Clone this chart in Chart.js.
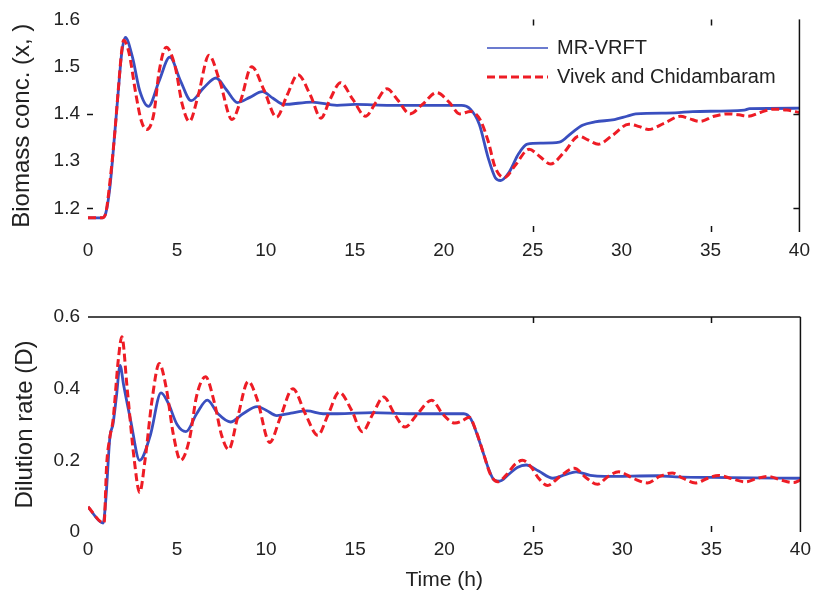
<!DOCTYPE html>
<html>
<head>
<meta charset="utf-8">
<script src="https://cdn.jsdelivr.net/npm/chart.js@4/dist/chart.umd.min.js"></script>
<style>
  html, body { margin: 0; padding: 0; background: #fff; }
  #wrap { position: relative; width: 817px; height: 593px; }
  #c1 { position: absolute; left: 0; top: 0; }
  #c2 { position: absolute; left: 0; top: 290px; }
</style>
</head>
<body>
<div id="wrap">
  <canvas id="c1" width="817" height="290"></canvas>
  <canvas id="c2" width="817" height="303"></canvas>
</div>
<script>
// ---------- DATA ----------
const seriesNames = ['MR-VRFT', 'Vivek and Chidambaram'];
const xTicks = [0, 5, 10, 15, 20, 25, 30, 35, 40];
const bioTicks = [1.2, 1.3, 1.4, 1.5, 1.6];
const dilTicks = [0, 0.2, 0.4, 0.6];

// Biomass concentration, MR-VRFT
const tBioMR = [0, 0.8, 1.0, 1.23, 1.5, 1.7, 1.9, 2.1, 2.5, 2.9, 3.4, 4.0, 4.6, 5.2, 5.8, 6.5, 7.2, 7.8, 8.4, 9.1, 9.8, 10.4, 11.0, 12.6, 14, 15, 17, 21.0, 21.5, 22.0, 22.5, 22.9, 23.2, 23.7, 24.2, 24.7, 25.5, 26.5, 27.2, 27.8, 28.5, 29.6, 30.3, 30.8, 33, 34, 36.9, 37.2, 40];
const bioMR  = [1.18, 1.18, 1.19, 1.244, 1.357, 1.447, 1.53, 1.562, 1.52, 1.45, 1.416, 1.47, 1.52, 1.47, 1.428, 1.455, 1.476, 1.45, 1.424, 1.435, 1.447, 1.433, 1.42, 1.425, 1.418, 1.42, 1.418, 1.418, 1.41, 1.378, 1.307, 1.265, 1.259, 1.278, 1.315, 1.336, 1.338, 1.34, 1.36, 1.376, 1.383, 1.388, 1.395, 1.40, 1.402, 1.405, 1.408, 1.411, 1.412];

// Biomass concentration, Vivek and Chidambaram
const tBioVC = [0, 0.8, 1.0, 1.2, 1.5, 1.7, 1.9, 2.0, 2.3, 2.7, 3.0, 3.3, 3.7, 4.0, 4.4, 4.9, 5.3, 5.7, 6.2, 6.8, 7.4, 8.1, 8.6, 9.2, 9.9, 10.6, 11.2, 11.8, 12.5, 13.1, 13.6, 14.2, 14.9, 15.6, 16.2, 16.8, 17.4, 18.1, 18.8, 19.6, 20.3, 20.9, 21.5, 21.8, 22.1, 22.5, 22.9, 23.4, 24.0, 24.8, 25.4, 26.0, 26.8, 27.6, 28.1, 28.7, 29.5, 30.4, 31.0, 31.5, 32.4, 33.3, 33.8, 34.4, 35.2, 36.0, 36.6, 37.1, 37.8, 38.5, 39.3, 40];
const bioVC  = [1.18, 1.18, 1.19, 1.245, 1.357, 1.45, 1.535, 1.556, 1.53, 1.44, 1.385, 1.367, 1.40, 1.49, 1.541, 1.50, 1.42, 1.384, 1.44, 1.524, 1.47, 1.388, 1.43, 1.50, 1.45, 1.393, 1.44, 1.483, 1.44, 1.391, 1.43, 1.466, 1.43, 1.395, 1.425, 1.453, 1.43, 1.40, 1.42, 1.445, 1.425, 1.40, 1.405, 1.40, 1.384, 1.342, 1.286, 1.265, 1.29, 1.325, 1.31, 1.294, 1.32, 1.353, 1.345, 1.336, 1.355, 1.378, 1.373, 1.367, 1.38, 1.395, 1.39, 1.384, 1.395, 1.40, 1.398, 1.395, 1.403, 1.41, 1.408, 1.403];

// Dilution rate, MR-VRFT
const tDilMR = [0, 0.85, 1.0, 1.23, 1.4, 1.6, 1.8, 2.0, 2.4, 2.9, 3.5, 4.1, 4.5, 5.0, 5.5, 6.1, 6.7, 7.3, 8.0, 8.7, 9.5, 10.0, 10.6, 11.4, 12.3, 13.2, 14, 16, 18, 21.1, 21.5, 22.0, 22.5, 22.8, 23.1, 23.6, 24.1, 24.6, 25.3, 26.1, 26.8, 27.4, 28.2, 29, 32, 33, 36, 40];
const dilMR  = [0.07, 0.025, 0.09, 0.265, 0.30, 0.38, 0.465, 0.41, 0.31, 0.20, 0.27, 0.388, 0.36, 0.30, 0.28, 0.33, 0.368, 0.33, 0.307, 0.33, 0.35, 0.34, 0.325, 0.332, 0.338, 0.33, 0.33, 0.333, 0.33, 0.33, 0.315, 0.25, 0.175, 0.145, 0.142, 0.16, 0.18, 0.187, 0.17, 0.15, 0.16, 0.168, 0.158, 0.155, 0.157, 0.154, 0.152, 0.15];

// Dilution rate, Vivek and Chidambaram
const tDilVC = [0, 0.9, 1.05, 1.23, 1.4, 1.7, 1.9, 2.2, 2.6, 2.9, 3.2, 3.6, 4.0, 4.4, 4.8, 5.2, 5.7, 6.1, 6.6, 7.1, 7.5, 7.9, 8.4, 9.0, 9.5, 10.2, 10.8, 11.5, 12.2, 12.9, 13.5, 14.1, 14.8, 15.4, 16.0, 16.6, 17.2, 17.8, 18.5, 19.3, 19.9, 20.6, 21.0, 21.4, 21.8, 22.2, 22.6, 23.0, 23.5, 24.0, 24.4, 24.9, 25.3, 25.8, 26.5, 27.3, 28.0, 28.6, 29.2, 29.8, 30.6, 31.4, 32.1, 32.8, 33.4, 34.1, 34.8, 35.4, 36.2, 36.9, 37.6, 38.2, 38.9, 39.6, 40];
const dilVC  = [0.07, 0.025, 0.19, 0.265, 0.31, 0.48, 0.545, 0.40, 0.20, 0.11, 0.20, 0.37, 0.47, 0.40, 0.27, 0.20, 0.26, 0.38, 0.433, 0.36, 0.27, 0.23, 0.32, 0.42, 0.37, 0.25, 0.32, 0.40, 0.33, 0.27, 0.33, 0.39, 0.34, 0.28, 0.33, 0.377, 0.33, 0.293, 0.33, 0.368, 0.33, 0.304, 0.31, 0.32, 0.28, 0.22, 0.16, 0.14, 0.16, 0.19, 0.20, 0.18, 0.15, 0.13, 0.155, 0.178, 0.15, 0.133, 0.155, 0.168, 0.15, 0.137, 0.155, 0.165, 0.15, 0.137, 0.15, 0.158, 0.148, 0.14, 0.15, 0.155, 0.145, 0.138, 0.145];

// visible inward tick marks on the frame
const frameXTicks = [25, 35];
const bioSideTicks = [1.2, 1.4];

// ---------- STYLE ----------
const FONT = '"Liberation Sans", Arial, Helvetica, sans-serif';
const BLUE = '#3a4fbf';
const RED = '#ee1c25';
const TXT = '#222222';

function pts(t, v) { return t.map((x, i) => ({ x: x, y: v[i] })); }

function datasets(tA, vA, tB, vB) {
  return [
    { label: seriesNames[0], data: pts(tA, vA), borderColor: BLUE, borderWidth: 2.8,
      pointRadius: 0, fill: false, cubicInterpolationMode: 'monotone', order: 2 },
    { label: seriesNames[1], data: pts(tB, vB), borderColor: RED, borderWidth: 3,
      borderDash: [8, 4], pointRadius: 0, fill: false, cubicInterpolationMode: 'monotone', order: 1 }
  ];
}

function framePlugin(cfg) {
  return {
    id: 'frame' + cfg.id,
    afterDatasetsDraw(chart) {
      const ctx = chart.ctx, a = chart.chartArea;
      const xs = chart.scales.x, ys = chart.scales.y;
      ctx.save();
      ctx.strokeStyle = '#111';
      ctx.lineWidth = 1.5;
      ctx.beginPath();
      ctx.moveTo(a.right, a.top); ctx.lineTo(a.right, a.bottom);
      if (cfg.topBorder) { ctx.moveTo(a.left, a.top); ctx.lineTo(a.right, a.top); }
      ctx.stroke();
      ctx.beginPath();
      frameXTicks.forEach(v => {
        const px = Math.round(xs.getPixelForValue(v)) + 0.5;
        ctx.moveTo(px, a.top); ctx.lineTo(px, a.top + 6);
        ctx.moveTo(px, a.bottom); ctx.lineTo(px, a.bottom - 6);
      });
      (cfg.sideTicks || []).forEach(v => {
        const py = Math.round(ys.getPixelForValue(v)) + 0.5;
        ctx.moveTo(a.left - 1, py); ctx.lineTo(a.left + 5, py);
        ctx.moveTo(a.right, py); ctx.lineTo(a.right - 6, py);
      });
      ctx.stroke();
      ctx.restore();
    },
    afterDraw(chart) {
      if (!cfg.legend) return;
      const ctx = chart.ctx;
      const ds = chart.data.datasets;
      ctx.save();
      ctx.font = '20px ' + FONT;
      ctx.fillStyle = TXT;
      ctx.textBaseline = 'middle';
      ctx.textAlign = 'left';
      const rows = [{ y: 48, d: ds[0], w: 1.6 }, { y: 77, d: ds[1], w: 3 }];
      rows.forEach(r => {
        ctx.beginPath();
        ctx.strokeStyle = r.d.borderColor;
        ctx.lineWidth = r.w;
        ctx.setLineDash(r.d.borderDash || []);
        ctx.moveTo(487, r.y); ctx.lineTo(548, r.y);
        ctx.stroke();
        ctx.setLineDash([]);
        ctx.fillText(r.d.label, 557, r.y);
      });
      ctx.restore();
    }
  };
}

function makeOptions(o) {
  return {
    responsive: false,
    animation: false,
    devicePixelRatio: 1,
    layout: { padding: { left: 0, right: 15, top: o.padTop, bottom: 0 } },
    plugins: { legend: { display: false }, tooltip: { enabled: false } },
    scales: {
      x: {
        type: 'linear', min: 0, max: 40,
        afterBuildTicks: s => { s.ticks = xTicks.map(v => ({ value: v })); },
        afterFit: s => { s.height = o.xHeight; },
        grid: { display: true, drawOnChartArea: false, drawTicks: false, color: 'rgba(0,0,0,0)' },
        border: { display: false },
        ticks: { color: TXT, font: { family: FONT, size: 19, lineHeight: 1.2 }, padding: o.xPad, maxRotation: 0,
                 callback: v => String(v) },
        title: o.xTitle ? { display: true, text: o.xTitle, color: TXT,
                 font: { family: FONT, size: 21, lineHeight: 1.2 }, padding: { top: 0, bottom: 0 } } : { display: false }
      },
      y: {
        type: 'linear', min: o.yMin, max: o.yMax,
        afterBuildTicks: s => { s.ticks = o.yTicks.map(v => ({ value: v })); },
        afterFit: s => { s.width = 88; },
        grid: { display: true, drawOnChartArea: false, drawTicks: false, color: 'rgba(0,0,0,0)' },
        border: { display: false },
        ticks: { color: TXT, font: { family: FONT, size: 19, lineHeight: 1.2 }, padding: 8,
                 callback: v => (v === 0 ? '0' : Number(v).toFixed(1)) },
        title: { display: true, text: o.yTitle, color: TXT,
                 font: { family: FONT, size: 24, lineHeight: 1.2 }, padding: { top: o.yTitlePad, bottom: 0 } }
      }
    }
  };
}

new Chart(document.getElementById('c1'), {
  type: 'line',
  data: { datasets: datasets(tBioMR, bioMR, tBioVC, bioVC) },
  options: makeOptions({ padTop: 17, xHeight: 58, xPad: 7, yMin: 1.15, yMax: 1.6, yTicks: bioTicks,
                         yTitle: 'Biomass conc. (x, )', yTitlePad: 8 }),
  plugins: [framePlugin({ id: 1, topBorder: false, sideTicks: bioSideTicks, legend: true })]
});

new Chart(document.getElementById('c2'), {
  type: 'line',
  data: { datasets: datasets(tDilMR, dilMR, tDilVC, dilVC) },
  options: makeOptions({ padTop: 27, xHeight: 61, xPad: 6, yMin: 0, yMax: 0.6, yTicks: dilTicks,
                         yTitle: 'Dilution rate (D)', yTitlePad: 11, xTitle: 'Time (h)' }),
  plugins: [framePlugin({ id: 2, topBorder: true, sideTicks: [], legend: false })]
});
</script>
</body>
</html>
